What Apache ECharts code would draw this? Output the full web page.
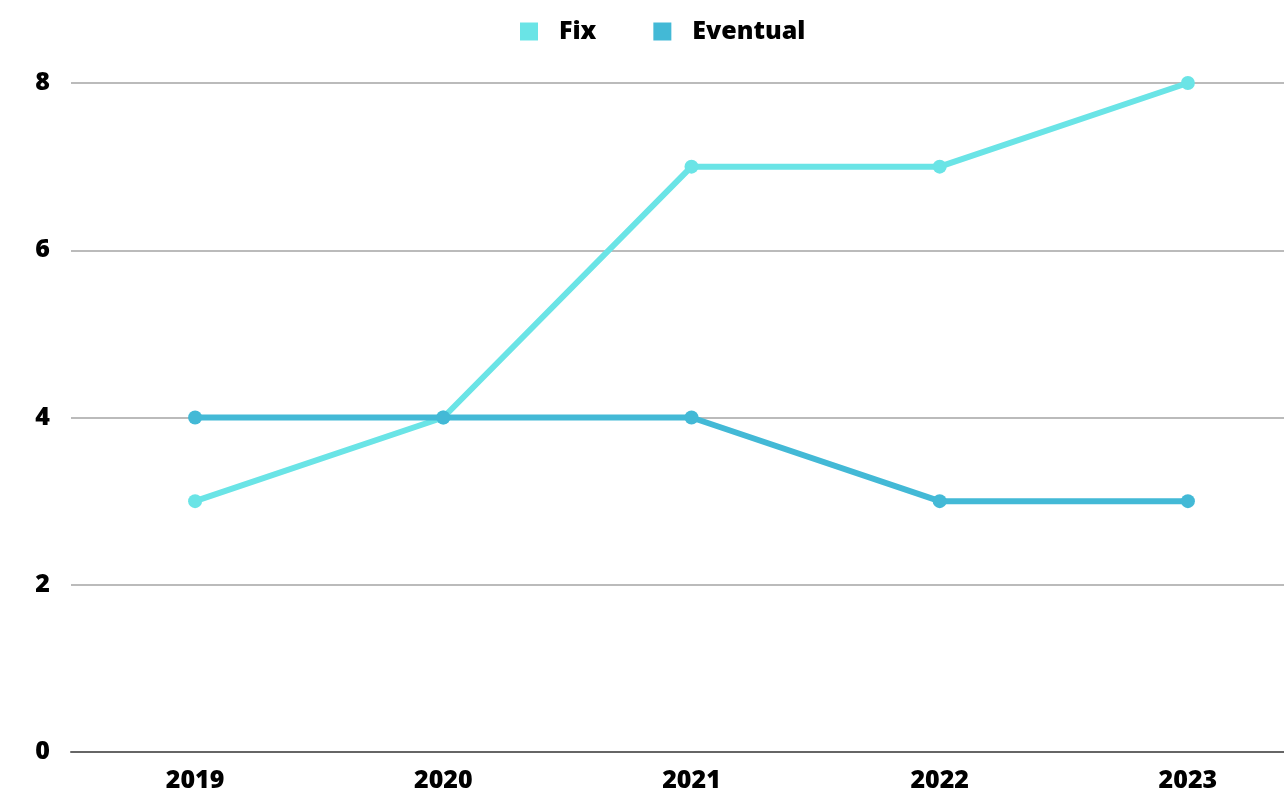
<!DOCTYPE html>
<html><head><meta charset="utf-8">
<script src="https://cdn.jsdelivr.net/npm/echarts@6/dist/echarts.min.js"></script>
<style>html,body{margin:0;padding:0;background:#fff;overflow:hidden;width:1284px;height:793px}#c{width:1312px;height:793px}</style>
</head><body><div id="c"></div>
<script>
const categories = ['2019','2020','2021','2022','2023'];
const fixValues = [3,4,7,7,8];
const eventualValues = [4,4,4,3,3];
const yTicks = [0,2,4,6,8];

const chart = echarts.init(document.getElementById('c'));
const font = '"Open Sans", sans-serif';
chart.setOption({
  animation: false,
  legend: {
    top: 14, left: 515,
    itemWidth: 18, itemHeight: 18, itemGap: 57,
    icon: 'rect',
    textStyle: {fontFamily: font, fontWeight: 800, fontSize: 25, color: '#000', padding: [0,0,0,16]},
    data: ['Fix','Eventual']
  },
  grid: {left: 71, right: 0, top: 83, bottom: 41, containLabel: false},
  xAxis: {
    type: 'category', data: categories, boundaryGap: true,
    axisLine: {lineStyle: {color: '#666', width: 2}},
    axisTick: {show: false},
    axisLabel: {fontFamily: font, fontWeight: 800, fontSize: 25, color: '#000', margin: 16}
  },
  yAxis: {
    type: 'value', min: yTicks[0], max: yTicks[yTicks.length-1], interval: 2,
    axisLine: {show: false}, axisTick: {show: false},
    splitLine: {lineStyle: {color: '#bbb', width: 2}},
    axisLabel: {fontFamily: font, fontWeight: 800, fontSize: 25, color: '#000', margin: 21}
  },
  series: [
    {name: 'Fix', type: 'line', data: fixValues, symbol: 'circle', symbolSize: 14,
     itemStyle: {color: '#6ae4e6'}, lineStyle: {width: 6, color: '#6ae4e6'}, z: 2},
    {name: 'Eventual', type: 'line', data: eventualValues, symbol: 'circle', symbolSize: 14,
     itemStyle: {color: '#43b9d6'}, lineStyle: {width: 6, color: '#43b9d6'}, z: 3}
  ]
});
</script></body></html>
